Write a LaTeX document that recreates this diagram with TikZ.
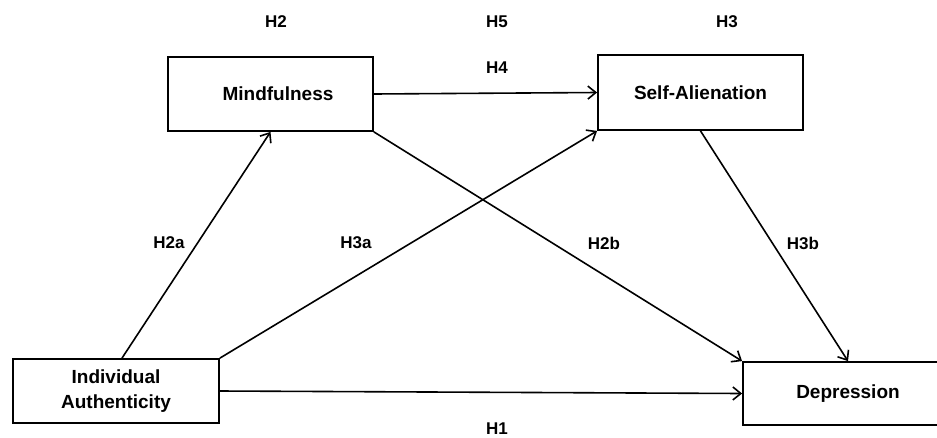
\documentclass[tikz,border=0pt]{standalone}
\usepackage{fontspec}
\setmainfont{Liberation Sans}
\usetikzlibrary{arrows.meta}
\begin{document}
\begin{tikzpicture}[x=1pt,y=1pt,
  box/.style={draw, line width=1.8pt, minimum width=#1, inner sep=0pt, font=\bfseries\fontsize{19}{25}\selectfont, align=center},
  conn/.style={line width=1.6pt, -{Straight Barb[length=8pt,width=13pt,line width=1.6pt]}},
  hlab/.style={font=\bfseries\fontsize{17}{20}\selectfont, inner sep=0pt}]
\useasboundingbox (0,0) rectangle (937,-437);
\node[box=206pt, minimum height=64pt] (ia) at (116,-391) {Individual\\Authenticity};
\node[box=205pt, minimum height=74pt] (mind) at (270.5,-94) {\hspace{15pt}Mindfulness};
\node[box=205pt, minimum height=75pt] (sa) at (700.5,-92.5) {Self-Alienation};
\node[box=210pt, minimum height=63pt] (dep) at (848,-393.5) {Depression};
\draw[conn] ([xshift=6pt]ia.north) -- (mind.south);
\draw[conn] (ia.north east) -- (sa.south west);
\draw[conn] (ia.east) -- (dep.west);
\draw[conn] (mind.east) -- (sa.west);
\draw[conn] (mind.south east) -- (dep.north west);
\draw[conn] (sa.south) -- (dep.north);
\node[hlab] (h2) at (276,-22) {H2};
\node[hlab] (h5) at (497,-22) {H5};
\node[hlab] (h3) at (727,-22) {H3};
\node[hlab] (h4) at (497,-68) {H4};
\node[hlab] (h2a) at (169,-243) {H2a};
\node[hlab] (h3a) at (356,-243) {H3a};
\node[hlab] (h2b) at (604,-243) {H2b};
\node[hlab] (h3b) at (803,-243) {H3b};
\node[hlab] (h1) at (497,-428.5) {H1};
\end{tikzpicture}
\end{document}
